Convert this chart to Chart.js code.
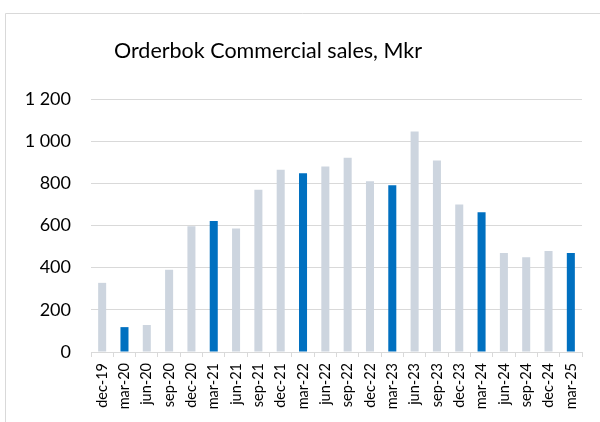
<!DOCTYPE html>
<html>
<head>
<meta charset="utf-8">
<script src="https://cdn.jsdelivr.net/npm/chart.js@4"></script>
<style>
  body { margin: 0; background: #fff; }
  #wrap { width: 600px; height: 422px; }
</style>
</head>
<body>
<div id="wrap"><canvas id="chart" width="600" height="422"></canvas></div>
<script>
const periods = ['dec-19','mar-20','jun-20','sep-20','dec-20','mar-21','jun-21','sep-21','dec-21','mar-22','jun-22',
  'sep-22','dec-22','mar-23','jun-23','sep-23','dec-23','mar-24','jun-24','sep-24','dec-24','mar-25'];
const orderbook = [328,118,128,390,597,621,586,769,864,848,880,921,810,791,1046,908,700,663,469,450,479,469];
const yTicks = [0,200,400,600,800,1000,1200];
const chartTitle = 'Orderbok Commercial sales, Mkr';

const FONT = 'Lato, "Open Sans", sans-serif';

// blue for the March bars, grey for the rest
const barColors = periods.map(p => p.startsWith('mar') ? '#0070C0' : '#CDD5DF');

const frameAndTitle = {
  id: 'frameAndTitle',
  beforeDraw(chart) {
    const ctx = chart.ctx;
    ctx.save();
    ctx.strokeStyle = '#d9d9d9';
    ctx.lineWidth = 1;
    ctx.beginPath();
    ctx.moveTo(5.5, 422);
    ctx.lineTo(5.5, 13.5);
    ctx.lineTo(600, 13.5);
    ctx.stroke();
    ctx.restore();
  },
  afterDraw(chart) {
    const ctx = chart.ctx;
    ctx.save();
    ctx.font = '21.5px ' + FONT;
    ctx.fillStyle = '#000';
    ctx.textAlign = 'center';
    ctx.textBaseline = 'middle';
    ctx.fillText(chartTitle, 268, 51);
    ctx.restore();
  }
};

new Chart(document.getElementById('chart'), {
  type: 'bar',
  data: {
    labels: periods,
    datasets: [{
      label: chartTitle,
      data: orderbook,
      backgroundColor: barColors,
      barPercentage: 0.72,
      categoryPercentage: 0.5
    }]
  },
  plugins: [frameAndTitle],
  options: {
    responsive: false,
    animation: false,
    layout: { padding: { top: 99, right: 18, left: 0, bottom: 0 } },
    plugins: {
      legend: { display: false },
      title: { display: false },
      tooltip: { enabled: false }
    },
    scales: {
      x: {
        grid: { drawOnChartArea: false, drawTicks: true, tickLength: 5, color: '#d9d9d9' },
        border: { color: '#d9d9d9' },
        ticks: {
          color: '#000',
          font: { family: FONT, size: 14.5 },
          minRotation: 90,
          maxRotation: 90,
          autoSkip: false,
          padding: 6
        },
        afterFit(scale) { scale.height = 70; }
      },
      y: {
        min: 0,
        max: 1200,
        afterBuildTicks(scale) { scale.ticks = yTicks.map(v => ({ value: v })); },
        grid: { color: '#d9d9d9', drawTicks: false },
        border: { display: false },
        ticks: {
          color: '#000',
          font: { family: FONT, size: 18 },
          padding: 20,
          callback: v => String(v).replace(/\B(?=(\d{3})+(?!\d))/g, ' ')
        },
        afterFit(scale) { scale.width = 91; }
      }
    }
  }
});
</script>
</body>
</html>
